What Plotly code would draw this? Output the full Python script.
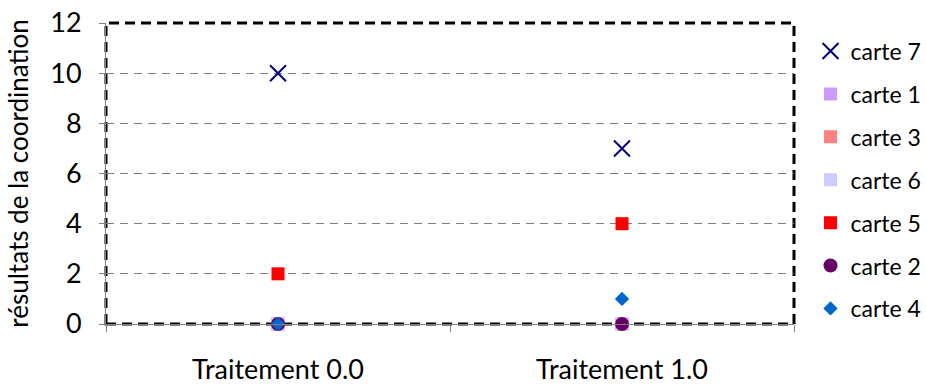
import plotly.graph_objects as go

# Treatment categories on the x axis
traitements = ["Traitement 0.0", "Traitement 1.0"]

# Coordination results per card
carte_7 = [10, 7]
carte_1 = [0, 0]
carte_3 = [0, 0]
carte_6 = [0, 0]
carte_5 = [2, 4]
carte_2 = [0, 0]
carte_4 = [0, 1]

y_ticks = [0, 2, 4, 6, 8, 10, 12]

FONT = "Lato"

series = [
    ("carte 7", carte_7, dict(symbol="x-thin", size=16, color="#000080",
                              line=dict(color="#000080", width=2))),
    ("carte 1", carte_1, dict(symbol="square", size=13, color="#CC99FF")),
    ("carte 3", carte_3, dict(symbol="square", size=13, color="#FF8080")),
    ("carte 6", carte_6, dict(symbol="square", size=13, color="#CCCCFF")),
    ("carte 5", carte_5, dict(symbol="square", size=13, color="#FF0000")),
    ("carte 2", carte_2, dict(symbol="circle", size=14, color="#660066")),
    ("carte 4", carte_4, dict(symbol="diamond", size=11, color="#0066CC")),
]

fig = go.Figure()
for i, (name, vals, marker) in enumerate(series):
    fig.add_trace(go.Scatter(
        x=traitements, y=vals, name=name, mode="markers",
        marker=marker, legendgroup=f"g{i}", cliponaxis=False,
    ))

fig.update_layout(
    width=926, height=389,
    margin=dict(l=106, r=132, t=23, b=65, autoexpand=False),
    plot_bgcolor="white", paper_bgcolor="white",
    font=dict(family=FONT, color="black"),
    showlegend=True,
    legend=dict(
        x=1.024, xanchor="left", y=0.978, yanchor="top",
        font=dict(family=FONT, size=23, color="black"),
        tracegroupgap=10, itemwidth=30, maxheight=389,
        bgcolor="rgba(0,0,0,0)",
    ),
)

fig.update_xaxes(
    type="category", range=[-0.5, 1.5], automargin=False,
    showline=True, linecolor="#808080", linewidth=1,
    ticks="outside", tickson="boundaries", ticklen=7, tickcolor="#808080",
    tickfont=dict(family=FONT, size=27), ticklabelstandoff=22,
    showgrid=False, zeroline=False,
)

fig.update_yaxes(
    range=[0, 12], tickvals=y_ticks, ticktext=[str(v) for v in y_ticks],
    automargin=False,
    showline=True, linecolor="#808080", linewidth=1,
    ticks="outside", ticklen=6, tickcolor="#808080",
    tickfont=dict(family=FONT, size=27), ticklabelstandoff=12,
    showgrid=True, gridcolor="#808080", gridwidth=1, griddash="8px,6px",
    zeroline=False,
    title=dict(text="résultats de la coordination",
               font=dict(family=FONT, size=26), standoff=14),
)

# Dashed frame around the plotting area
fig.add_shape(
    type="rect", xref="paper", yref="paper", x0=0, y0=0, x1=1, y1=1,
    line=dict(color="black", width=3, dash="10px,6px"), layer="below",
)

fig.write_html("out.html")
